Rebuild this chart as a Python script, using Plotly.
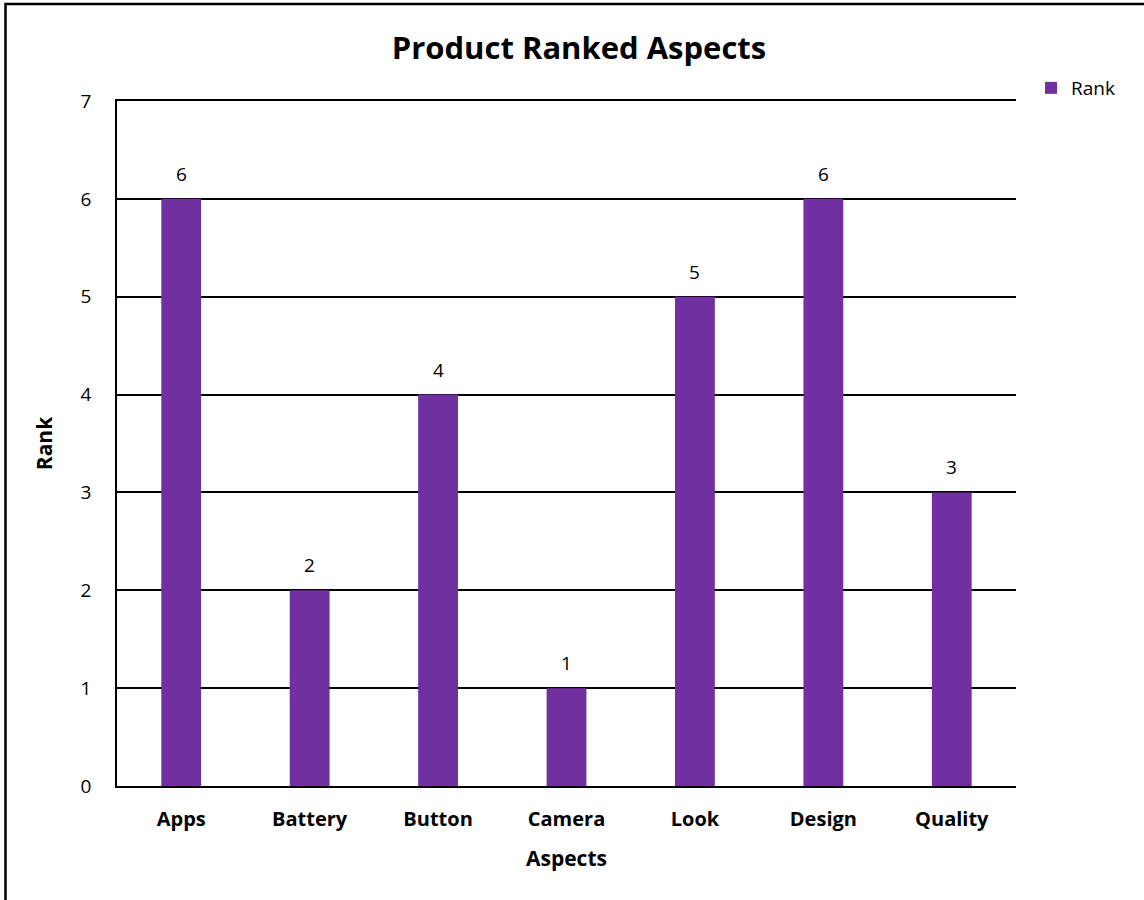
import plotly.graph_objects as go

categories = ["Apps", "Battery", "Button", "Camera", "Look", "Design", "Quality"]
ranks = [6, 2, 4, 1, 5, 6, 3]
y_ticks = [0, 1, 2, 3, 4, 5, 6, 7]

FONT = "Open Sans, Calibri, Carlito, sans-serif"

fig = go.Figure()
fig.add_trace(go.Bar(
    x=categories, y=ranks, name="Rank",
    marker=dict(color="#7030A0", line=dict(width=0)),
    width=0.31,
    showlegend=True,
))

L, R, T, B = 117, 128, 101, 114
W, H = 1144, 900
pw, ph = W - L - R, H - T - B

def px(x):
    return (x - L) / pw

def py(y):
    return (H - B - y) / ph

annotations = [
    dict(x=c, y=v, xref="x", yref="y", text=str(v), showarrow=False,
         yanchor="bottom", yshift=10, font=dict(size=19, family=FONT, color="black"))
    for c, v in zip(categories, ranks)
]

fig.update_layout(
    width=W, height=H,
    margin=dict(l=L, r=R, t=T, b=B),
    paper_bgcolor="white", plot_bgcolor="white",
    font=dict(family=FONT, color="black", size=19),
    title=dict(text="<b>Product Ranked Aspects</b>", x=px(579), xref="paper",
               xanchor="center", y=1 - 48 / H, yanchor="middle",
               font=dict(size=31, family=FONT, color="black")),
    bargap=0.69,
    showlegend=True,
    legend=dict(x=px(1031), y=py(88), xanchor="left", yanchor="middle",
                font=dict(size=19, family=FONT), bgcolor="rgba(0,0,0,0)",
                itemwidth=30, tracegroupgap=0),
    annotations=annotations,
    xaxis=dict(
        title=dict(text="<b>Aspects</b>", font=dict(size=21, family=FONT), standoff=20),
        tickfont=dict(size=20, family=FONT, weight="bold"),
        showline=True, linecolor="black", linewidth=2, mirror=True,
        showgrid=False, ticks="", ticklabelstandoff=14,
    ),
    yaxis=dict(
        title=dict(text="<b>Rank</b>", font=dict(size=21, family=FONT), standoff=22),
        range=[0, 7], tickvals=y_ticks, ticktext=[str(v) for v in y_ticks],
        tickfont=dict(size=19, family=FONT),
        showgrid=True, gridcolor="black", gridwidth=1.5,
        showline=True, linecolor="black", linewidth=1.5,
        zeroline=False, ticks="", ticklabelstandoff=20,
    ),
    shapes=[dict(type="rect", xref="paper", yref="paper",
                 x0=px(5.5), x1=px(W + 50), y0=py(H + 50), y1=py(4),
                 line=dict(color="black", width=2.5), fillcolor="rgba(0,0,0,0)",
                 layer="below")],
)

fig.write_html("out.html")
